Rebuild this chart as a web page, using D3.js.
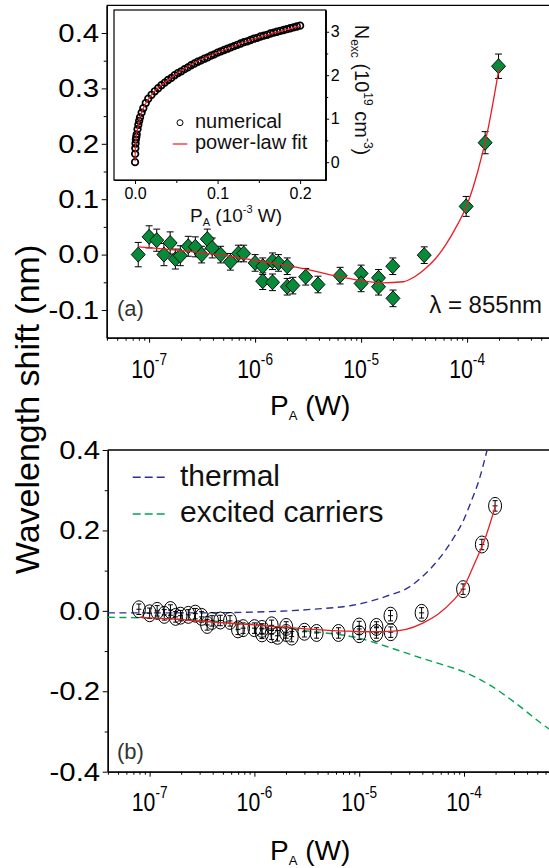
<!DOCTYPE html>
<html><head><meta charset="utf-8">
<script src="https://cdn.jsdelivr.net/npm/d3@7"></script>
<style>
body{margin:0;background:#fff;}
svg{display:block;font-family:"Liberation Sans",Arial,Helvetica,sans-serif;}
</style></head><body>
<svg id="c" width="549" height="868"></svg>
<script>
// ---------- DATA ----------
// Panel (a): measured shift, lambda = 855 nm
const powerA = [7.9e-8, 1.0e-7, 1.18e-7, 1.38e-7, 1.58e-7, 1.77e-7, 1.97e-7, 2.34e-7, 2.73e-7, 3.13e-7,
  3.54e-7, 3.94e-7, 4.73e-7, 5.85e-7, 6.97e-7, 7.8e-7, 1.0e-6, 1.18e-6, 1.18e-6, 1.46e-6,
  1.46e-6, 1.66e-6, 2.01e-6, 2.01e-6, 2.27e-6, 3.0e-6, 3.92e-6, 6.34e-6, 1.0e-5, 1.0e-5,
  1.46e-5, 1.46e-5, 1.99e-5, 2.0e-5, 3.94e-5, 9.8e-5, 1.48e-4, 1.98e-4];
const shiftA = [0.000, 0.032, 0.026, 0.000, 0.021, -0.008, -0.002, 0.015, 0.014, 0.000,
  0.028, 0.012, 0.000, -0.013, 0.002, 0.002, -0.015, -0.021, -0.048, -0.012,
  -0.050, -0.015, -0.021, -0.058, -0.056, -0.040, -0.054, -0.038, -0.034, -0.052,
  -0.042, -0.058, -0.021, -0.079, -0.001, 0.087, 0.202, 0.340];
const errA = [0.022, 0.020, 0.020, 0.020, 0.020, 0.018, 0.018, 0.018, 0.018, 0.015,
  0.018, 0.018, 0.015, 0.015, 0.015, 0.015, 0.015, 0.015, 0.015, 0.015,
  0.015, 0.015, 0.015, 0.015, 0.015, 0.015, 0.015, 0.015, 0.015, 0.015,
  0.015, 0.015, 0.015, 0.015, 0.015, 0.018, 0.020, 0.022];
const fitPA = [7.9e-8, 1.6e-7, 3.2e-7, 6.3e-7, 1.1e-6, 2.5e-6, 5.0e-6, 1.0e-5, 1.6e-5, 2.5e-5,
  3.2e-5, 4.0e-5, 5.0e-5, 6.3e-5, 7.9e-5, 1.0e-4, 1.26e-4, 1.58e-4, 2.0e-4];
const fitA = [0.014, 0.009, 0.003, -0.004, -0.012, -0.023, -0.036, -0.047, -0.051, -0.049,
  -0.040, -0.026, -0.008, 0.018, 0.050, 0.090, 0.150, 0.228, 0.336];

// Panel (b)
const shiftB = [0.004, -0.006, 0.000, -0.010, 0.002, -0.015, -0.012, -0.010, -0.007, -0.015,
  -0.035, -0.025, -0.024, -0.025, -0.046, -0.043, -0.043, -0.045, -0.056, -0.036,
  -0.058, -0.062, -0.040, -0.055, -0.064, -0.052, -0.055, -0.055, -0.039, -0.058,
  -0.040, -0.055, -0.012, -0.053, -0.005, 0.054, 0.165, 0.261];
const errB = 0.013;
const fitPB = [7.9e-8, 1.6e-7, 4.0e-7, 1.0e-6, 2.5e-6, 6.3e-6, 1.26e-5, 2.0e-5, 2.8e-5, 4.0e-5,
  5.6e-5, 7.9e-5, 1.0e-4, 1.26e-4, 1.58e-4, 2.0e-4];
const fitB = [-0.016, -0.020, -0.028, -0.035, -0.043, -0.050, -0.052, -0.051, -0.046, -0.031,
  -0.009, 0.026, 0.060, 0.118, 0.178, 0.262];
const thermP = [4.0e-8, 3.2e-7, 1.0e-6, 3.2e-6, 1.0e-5, 1.8e-5, 3.2e-5, 4.0e-5, 5.6e-5, 7.9e-5,
  1.0e-4, 1.15e-4, 1.41e-4, 1.66e-4];
const thermal = [-0.005, -0.005, -0.003, 0.003, 0.017, 0.036, 0.064, 0.085, 0.125, 0.180,
  0.228, 0.267, 0.330, 0.400];
const carrP = [4.0e-8, 1.0e-7, 3.2e-7, 1.0e-6, 3.2e-6, 1.0e-5, 1.8e-5, 3.2e-5, 5.6e-5, 1.0e-4,
  1.8e-4, 3.2e-4, 5.6e-4, 8.0e-4];
const carriers = [-0.016, -0.018, -0.024, -0.034, -0.050, -0.068, -0.088, -0.110, -0.130, -0.152,
  -0.186, -0.232, -0.282, -0.310];
const legendB = ["thermal", "excited carriers"];

// Inset: excited carrier density vs power
const insetP = [0, 0.0001, 0.0003, 0.0006, 0.001, 0.0015, 0.002, 0.003, 0.004, 0.005,
  0.006, 0.008, 0.010, 0.013, 0.016, 0.020, 0.024, 0.028, 0.032, 0.036,
  0.040, 0.044, 0.048, 0.052, 0.056, 0.060, 0.064, 0.068, 0.072, 0.076,
  0.080, 0.084, 0.088, 0.092, 0.096, 0.100, 0.104, 0.108, 0.112, 0.116,
  0.120, 0.124, 0.128, 0.132, 0.136, 0.140, 0.144, 0.148, 0.152, 0.156,
  0.160, 0.164, 0.168, 0.172, 0.176, 0.180, 0.184, 0.188, 0.192, 0.196, 0.200];
const insetN = [0, 0.19, 0.32, 0.43, 0.52, 0.58, 0.64, 0.76, 0.86, 0.95,
  1.03, 1.14, 1.24, 1.36, 1.46, 1.55, 1.63, 1.70, 1.77, 1.83,
  1.89, 1.94, 2.00, 2.05, 2.09, 2.14, 2.18, 2.23, 2.27, 2.31,
  2.34, 2.38, 2.41, 2.45, 2.48, 2.52, 2.55, 2.58, 2.61, 2.64,
  2.67, 2.70, 2.73, 2.76, 2.78, 2.81, 2.84, 2.86, 2.89, 2.91,
  2.93, 2.96, 2.98, 3.00, 3.02, 3.04, 3.06, 3.08, 3.10, 3.12, 3.14];
const insetFitP = [0, 0.0002, 0.001, 0.003, 0.006, 0.010, 0.020, 0.040, 0.070, 0.100, 0.140, 0.200];
const insetFitN = [0.02, 0.24, 0.52, 0.76, 1.03, 1.24, 1.55, 1.89, 2.27, 2.52, 2.81, 3.13];
const insetLegend = ["numerical", "power-law fit"];

// Ticks
const xMajor = [1e-7, 1e-6, 1e-5, 1e-4];
const xExp = ["-7", "-6", "-5", "-4"];
const yMajorA = [-0.1, 0, 0.1, 0.2, 0.3, 0.4];
const yMinorA = [-0.05, 0.05, 0.15, 0.25, 0.35];
const yMajorB = [-0.4, -0.2, 0, 0.2, 0.4];
const yMinorB = [-0.3, -0.1, 0.1, 0.3];
const insetXTicks = [0, 0.1, 0.2];
const insetXMinor = [0.05, 0.15];
const insetYTicks = [0, 1, 2, 3];
const insetYMinor = [0.5, 1.5, 2.5];

// ---------- DRAWING ----------
const svg = d3.select("#c");
const RED = "#ec1c24", BLUE = "#2e3192", GREEN = "#00a651", DGREEN = "#078a3a";
const lo = Math.pow(10, -7.4);
const minorX = [];
for (let e = -8; e <= -4; e++) for (let k = 2; k <= 9; k++) {
  const v = k * Math.pow(10, e);
  if (v >= lo && v <= 1e-3) minorX.push(v);
}

const xA = d3.scaleLog().domain([lo, 1e-3]).range([106.7, 573.1]);
const yA = d3.scaleLinear().domain([-0.15, 0.45]).range([337.7, 5.3]);
const xB = d3.scaleLog().domain([lo, 1e-3]).range([107.7, 568.8]);
const yB = d3.scaleLinear().domain([-0.4, 0.4]).range([771.7, 450]);

const defs = svg.append("defs");
defs.append("clipPath").attr("id", "clipA").append("rect")
  .attr("x", 106.7).attr("y", 5.3).attr("width", 460).attr("height", 332.4);
defs.append("clipPath").attr("id", "clipB").append("rect")
  .attr("x", 107.7).attr("y", 450).attr("width", 460).attr("height", 321.7);

function styleAxis(g) {
  g.selectAll(".domain").attr("stroke", "#000").attr("stroke-width", 1.3);
  g.selectAll(".tick line").attr("stroke", "#000").attr("stroke-width", 1);
}

function drawPanel(x, y, yMaj, yMin, fmt, labBase) {
  const [x0, x1] = x.range();
  const [yb, yt] = y.range();
  svg.append("line").attr("x1", x0).attr("x2", 560).attr("y1", yt).attr("y2", yt)
    .attr("stroke", "#000").attr("stroke-width", 1.3);
  const gx = svg.append("g").attr("transform", `translate(0,${yb})`);
  gx.append("g").call(d3.axisBottom(x).tickValues(minorX).tickSize(3).tickSizeOuter(0).tickFormat(""));
  gx.append("g").call(d3.axisBottom(x).tickValues(xMajor).tickSize(5).tickSizeOuter(0).tickFormat(""));
  styleAxis(gx);
  xMajor.forEach((v, i) => {
    const t = svg.append("text")
      .attr("transform", `translate(${x(v)},${labBase}) scale(0.85,1)`)
      .attr("text-anchor", "middle").attr("font-size", 25).attr("fill", "#000");
    t.append("tspan").text("10");
    t.append("tspan").attr("font-size", 16).attr("dy", -13).text(xExp[i]);
  });
  const gy = svg.append("g").attr("transform", `translate(${x0},0)`);
  gy.append("g").call(d3.axisLeft(y).tickValues(yMin).tickSize(3).tickSizeOuter(0).tickFormat(""));
  gy.append("g").call(d3.axisLeft(y).tickValues(yMaj).tickSize(5).tickSizeOuter(0).tickPadding(2.5)
    .tickFormat(fmt));
  styleAxis(gy);
  gy.selectAll(".tick text").attr("font-size", 26).attr("fill", "#000")
    .attr("font-family", '"Liberation Sans",Arial,sans-serif')
    .attr("x", -7.5 / 1.13).attr("transform", "scale(1.13,1)");
}

const fmt1 = d => d.toFixed(1);
drawPanel(xA, yA, yMajorA, yMinorA, fmt1, 378.3);
drawPanel(xB, yB, yMajorB, yMinorB, fmt1, 811);

function pTitle(yBase) {
  const t = svg.append("text").attr("x", 270).attr("y", yBase).attr("font-size", 28).attr("fill", "#000");
  t.append("tspan").text("P");
  t.append("tspan").attr("font-size", 13).attr("dy", 4.5).text("A");
  t.append("tspan").attr("dy", -4.5).text(" (W)");
}
pTitle(415);
pTitle(860);
svg.append("text").attr("transform", "translate(38.5,409.5) rotate(-90)")
  .attr("text-anchor", "middle").attr("font-size", 34).attr("fill", "#000")
  .text("Wavelength shift (nm)");

// ---------- Panel (a) marks ----------
const gA = svg.append("g").attr("clip-path", "url(#clipA)");
const ptsA = powerA.map((p, i) => ({ p, v: shiftA[i], e: errA[i] }));
const eb = gA.append("g").attr("stroke", "#000").attr("stroke-width", 1);
ptsA.forEach(d => {
  const cx = xA(d.p), t = yA(d.v + d.e), b = yA(d.v - d.e);
  eb.append("line").attr("x1", cx).attr("x2", cx).attr("y1", t).attr("y2", b);
  eb.append("line").attr("x1", cx - 3.5).attr("x2", cx + 3.5).attr("y1", t).attr("y2", t);
  eb.append("line").attr("x1", cx - 3.5).attr("x2", cx + 3.5).attr("y1", b).attr("y2", b);
});
gA.selectAll("path.dia").data(ptsA).join("path").attr("class", "dia")
  .attr("transform", d => `translate(${xA(d.p)},${yA(d.v)})`)
  .attr("d", "M0,-7.5L7,0L0,7.5L-7,0Z")
  .attr("fill", DGREEN).attr("stroke", "#000").attr("stroke-width", 0.9);
gA.append("path").datum(fitPA.map((p, i) => [p, fitA[i]]))
  .attr("fill", "none").attr("stroke", RED).attr("stroke-width", 1.3)
  .attr("d", d3.line().x(d => xA(d[0])).y(d => yA(d[1])).curve(d3.curveMonotoneX));

svg.append("text").attr("x", 117).attr("y", 316).attr("font-size", 22).attr("fill", "#333").text("(a)");
svg.append("text").attr("x", 542).attr("y", 313).attr("text-anchor", "end").attr("font-size", 24)
  .attr("fill", "#111").text("λ = 855nm");

// ---------- Inset ----------
const xI = d3.scaleLinear().domain([-0.0255, 0.231]).range([114, 325.7]);
const yI = d3.scaleLinear().domain([-0.41, 3.5]).range([180, 10]);
svg.append("rect").attr("x", 114).attr("y", 10).attr("width", 211.7).attr("height", 170)
  .attr("fill", "#fff").attr("stroke", "#000").attr("stroke-width", 1.2);
const gix = svg.append("g").attr("transform", "translate(0,180)");
gix.append("g").call(d3.axisBottom(xI).tickValues(insetXMinor).tickSize(3).tickSizeOuter(0).tickFormat(""));
gix.append("g").call(d3.axisBottom(xI).tickValues(insetXTicks).tickSize(4).tickSizeOuter(0)
  .tickPadding(4).tickFormat(d => d.toFixed(1)));
const giy = svg.append("g").attr("transform", "translate(325.7,0)");
giy.append("g").call(d3.axisRight(yI).tickValues(insetYMinor).tickSize(2.5).tickSizeOuter(0).tickFormat(""));
giy.append("g").call(d3.axisRight(yI).tickValues(insetYTicks).tickSize(3.5).tickSizeOuter(0)
  .tickPadding(1.5).tickFormat(d3.format("d")));
[gix, giy].forEach(g => {
  g.selectAll(".domain").attr("stroke", "#000").attr("stroke-width", 1.2);
  g.selectAll(".tick line").attr("stroke", "#000");
  g.selectAll(".tick text").attr("font-size", 16).attr("fill", "#000")
    .attr("font-family", '"Liberation Sans",Arial,sans-serif');
});
svg.append("g").selectAll("circle").data(insetP.map((p, i) => [p, insetN[i]])).join("circle")
  .attr("cx", d => xI(d[0])).attr("cy", d => yI(d[1])).attr("r", 3.3)
  .attr("fill", "none").attr("stroke", "#000").attr("stroke-width", 1.7);
svg.append("path").datum(insetFitP.map((p, i) => [p, insetFitN[i]]))
  .attr("fill", "none").attr("stroke", RED).attr("stroke-width", 1.1)
  .attr("d", d3.line().x(d => xI(d[0])).y(d => yI(d[1])).curve(d3.curveMonotoneX));
svg.append("circle").attr("cx", 180).attr("cy", 122.7).attr("r", 3).attr("fill", "#fff")
  .attr("stroke", "#000").attr("stroke-width", 1);
svg.append("line").attr("x1", 172.7).attr("x2", 187.3).attr("y1", 144).attr("y2", 144)
  .attr("stroke", RED).attr("stroke-width", 1.2);
svg.append("text").attr("x", 195).attr("y", 127.5).attr("font-size", 20).attr("fill", "#111").text(insetLegend[0]);
svg.append("text").attr("x", 195).attr("y", 148.5).attr("font-size", 20).attr("fill", "#111").text(insetLegend[1]);
{
  const t = svg.append("text").attr("x", 190).attr("y", 221.7).attr("font-size", 19).attr("fill", "#111");
  t.append("tspan").text("P");
  t.append("tspan").attr("font-size", 11).attr("dy", 4).text("A");
  t.append("tspan").attr("dy", -4).text(" (10");
  t.append("tspan").attr("font-size", 11).attr("dy", -9).text("-3");
  t.append("tspan").attr("dy", 9).text(" W)");
  const r = svg.append("text").attr("transform", "translate(354.8,90) rotate(90)")
    .attr("text-anchor", "middle").attr("font-size", 20).attr("fill", "#111");
  r.append("tspan").text("N");
  r.append("tspan").attr("font-size", 12).attr("dy", 4).text("exc");
  r.append("tspan").attr("dy", -4).text(" (10");
  r.append("tspan").attr("font-size", 12).attr("dy", -9).text("19");
  r.append("tspan").attr("dy", 9).text(" cm");
  r.append("tspan").attr("font-size", 12).attr("dy", -9).text("-3");
  r.append("tspan").attr("dy", 9).text(")");
}

// ---------- Panel (b) marks ----------
const gB = svg.append("g").attr("clip-path", "url(#clipB)");
const lineB = d3.line().x(d => xB(d[0])).y(d => yB(d[1])).curve(d3.curveMonotoneX);
gB.append("path").datum(thermP.map((p, i) => [p, thermal[i]]))
  .attr("fill", "none").attr("stroke", BLUE).attr("stroke-width", 1.4).attr("stroke-dasharray", "7,4.5")
  .attr("d", lineB);
gB.append("path").datum(carrP.map((p, i) => [p, carriers[i]]))
  .attr("fill", "none").attr("stroke", GREEN).attr("stroke-width", 1.4).attr("stroke-dasharray", "7,4.5")
  .attr("d", lineB);
const ptsB = powerA.map((p, i) => ({ p, v: shiftB[i] }));
const mk = gB.append("g").attr("stroke", "#000").attr("stroke-width", 1).attr("fill", "none");
ptsB.forEach(d => {
  const cx = xB(d.p), cy = yB(d.v), t = yB(d.v + errB), b = yB(d.v - errB);
  mk.append("ellipse").attr("cx", cx).attr("cy", cy).attr("rx", 6.5).attr("ry", 8.5);
  mk.append("line").attr("x1", cx).attr("x2", cx).attr("y1", t).attr("y2", b);
  mk.append("line").attr("x1", cx - 2.5).attr("x2", cx + 2.5).attr("y1", t).attr("y2", t);
  mk.append("line").attr("x1", cx - 2.5).attr("x2", cx + 2.5).attr("y1", b).attr("y2", b);
  mk.append("line").attr("x1", cx - 2.5).attr("x2", cx + 2.5).attr("y1", cy).attr("y2", cy);
});
gB.append("path").datum(fitPB.map((p, i) => [p, fitB[i]]))
  .attr("fill", "none").attr("stroke", RED).attr("stroke-width", 1.3).attr("d", lineB);

[[BLUE, 477.3, legendB[0], 485.5], [GREEN, 514, legendB[1], 522]].forEach(([c, ly, txt, tb]) => {
  svg.append("line").attr("x1", 132.7).attr("x2", 168).attr("y1", ly).attr("y2", ly)
    .attr("stroke", c).attr("stroke-width", 1.4).attr("stroke-dasharray", "8,4");
  svg.append("text").attr("x", 180).attr("y", tb).attr("font-size", 30).attr("fill", "#111").text(txt);
});
svg.append("text").attr("x", 117).attr("y", 759).attr("font-size", 22).attr("fill", "#333").text("(b)");
</script>
</body></html>
